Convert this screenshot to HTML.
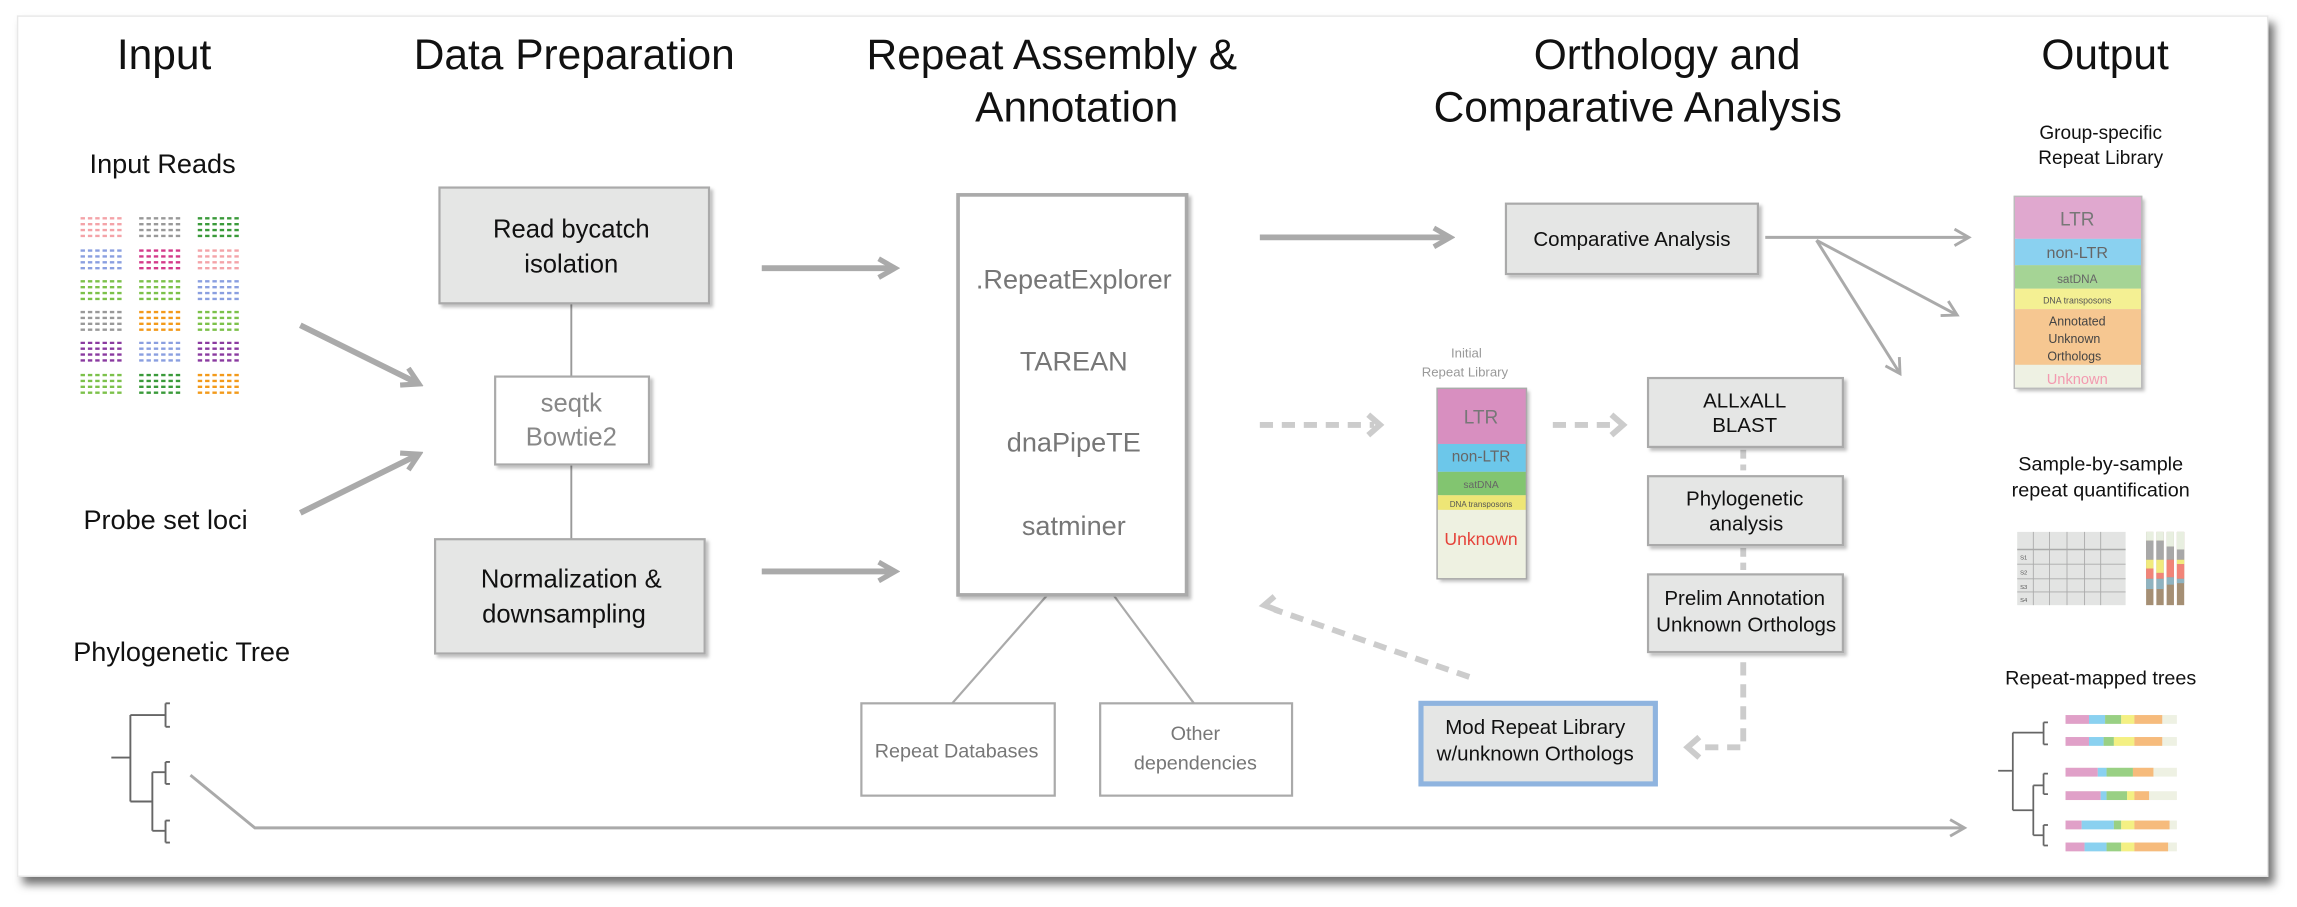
<!DOCTYPE html>
<html><head><meta charset="utf-8"><style>
html,body{margin:0;padding:0;background:#fff;}
svg{display:block;}
text{font-family:"Liberation Sans",sans-serif;}
</style></head><body>
<svg width="2297" height="907" viewBox="0 0 1568 619" preserveAspectRatio="none" xmlns="http://www.w3.org/2000/svg">
<defs>
<filter id="sh" x="-5%" y="-5%" width="112%" height="112%"><feDropShadow dx="4" dy="5" stdDeviation="3" flood-color="#000" flood-opacity="0.55"/></filter>
<filter id="bs" x="-10%" y="-10%" width="125%" height="125%"><feDropShadow dx="2" dy="2" stdDeviation="1" flood-color="#000" flood-opacity="0.25"/></filter>
<marker id="ah" viewBox="0 0 10 10" refX="8" refY="5" markerWidth="4" markerHeight="4" orient="auto"><path d="M1 1 L8 5 L1 9" fill="none" stroke="#aaa" stroke-width="2.2"/></marker>
<marker id="ah2" viewBox="0 0 10 10" refX="8" refY="5" markerWidth="7" markerHeight="7" orient="auto"><path d="M1 1 L8 5 L1 9" fill="none" stroke="#aaa" stroke-width="1.4"/></marker>
</defs>
<rect x="0" y="0" width="1568" height="619" fill="#fff"/>
<rect x="12" y="11" width="1536" height="587" fill="#fff" stroke="#e8e8e8" stroke-width="1" filter="url(#sh)"/>

<g font-size="29" fill="#111" text-anchor="middle">
<text x="112" y="47">Input</text>
<text x="392" y="47">Data Preparation</text>
<text x="718" y="47">Repeat Assembly &amp;</text>
<text x="735" y="83">Annotation</text>
<text x="1138" y="47">Orthology and</text>
<text x="1118" y="83">Comparative Analysis</text>
<text x="1437" y="47">Output</text>
</g>

<g font-size="18.5" fill="#111" text-anchor="middle">
<text x="111" y="118">Input Reads</text>
<text x="113" y="361">Probe set loci</text>
<text x="124" y="451">Phylogenetic Tree</text>
</g>

<g stroke-width="1.6" stroke-dasharray="3 2">
<g stroke="#f4a3a8"><path d="M55 149h30M55 153h30M55 157h30M55 161h30"/></g>
<g stroke="#999"><path d="M95 149h30M95 153h30M95 157h30M95 161h30"/></g>
<g stroke="#3a9a3a"><path d="M135 149h30M135 153h30M135 157h30M135 161h30"/></g>
<g stroke="#8a9fe0"><path d="M55 171h30M55 175h30M55 179h30M55 183h30"/></g>
<g stroke="#d43a8a"><path d="M95 171h30M95 175h30M95 179h30M95 183h30"/></g>
<g stroke="#f4a3a8"><path d="M135 171h30M135 175h30M135 179h30M135 183h30"/></g>
<g stroke="#7cc14a"><path d="M55 192h30M55 196h30M55 200h30M55 204h30"/></g>
<g stroke="#7cc14a"><path d="M95 192h30M95 196h30M95 200h30M95 204h30"/></g>
<g stroke="#8a9fe0"><path d="M135 192h30M135 196h30M135 200h30M135 204h30"/></g>
<g stroke="#999"><path d="M55 213h30M55 217h30M55 221h30M55 225h30"/></g>
<g stroke="#f39a1a"><path d="M95 213h30M95 217h30M95 221h30M95 225h30"/></g>
<g stroke="#7cc14a"><path d="M135 213h30M135 217h30M135 221h30M135 225h30"/></g>
<g stroke="#8a3aa0"><path d="M55 234h30M55 238h30M55 242h30M55 246h30"/></g>
<g stroke="#8a9fe0"><path d="M95 234h30M95 238h30M95 242h30M95 246h30"/></g>
<g stroke="#8a3aa0"><path d="M135 234h30M135 238h30M135 242h30M135 246h30"/></g>
<g stroke="#7cc14a"><path d="M55 256h30M55 260h30M55 264h30M55 268h30"/></g>
<g stroke="#3a9a3a"><path d="M95 256h30M95 260h30M95 264h30M95 268h30"/></g>
<g stroke="#f39a1a"><path d="M135 256h30M135 260h30M135 264h30M135 268h30"/></g>
</g>

<!-- left tree -->
<g stroke="#666" stroke-width="1.3" fill="none">
<path d="M76 517h13M89 488v59M89 488h24M89 547h15M104 527v40M104 527h9M104 567h9"/>
<path d="M113 480v16M113 480h3M113 496h3M113 520v15M113 520h3M113 535h3M113 560v15M113 560h3M113 575h3"/>
</g>

<g stroke="#aaa" stroke-width="4" fill="none" marker-end="url(#ah)">
<line x1="205" y1="222" x2="286" y2="262"/>
<line x1="205" y1="350" x2="286" y2="310"/>
<line x1="520" y1="183" x2="611" y2="183"/>
<line x1="520" y1="390" x2="611" y2="390"/>
<line x1="860" y1="162" x2="990" y2="162"/>
</g>

<g stroke="#999" stroke-width="1.3">
<line x1="390" y1="207" x2="390" y2="257"/>
<line x1="390" y1="317" x2="390" y2="368"/>
</g>
<rect x="300" y="128" width="184" height="79" fill="#e5e6e5" stroke="#aaa" stroke-width="1.5" filter="url(#bs)"/>
<rect x="338" y="257" width="105" height="60" fill="#fff" stroke="#aaa" stroke-width="1.5" filter="url(#bs)"/>
<rect x="297" y="368" width="184" height="78" fill="#e5e6e5" stroke="#aaa" stroke-width="1.5" filter="url(#bs)"/>
<g font-size="17.5" text-anchor="middle" fill="#111">
<text x="390" y="162">Read bycatch</text><text x="390" y="186">isolation</text>
<text x="390" y="401">Normalization &amp;</text><text x="385" y="425">downsampling</text>
</g>
<g font-size="17.5" text-anchor="middle" fill="#888">
<text x="390" y="281">seqtk</text><text x="390" y="304">Bowtie2</text>
</g>

<g stroke="#aaa" stroke-width="1.5"><line x1="715" y1="406" x2="650" y2="480"/><line x1="760" y1="406" x2="815" y2="480"/></g>
<rect x="654" y="133" width="156" height="273" fill="#fff" stroke="#aaa" stroke-width="2.5" filter="url(#bs)"/>
<g font-size="18.5" text-anchor="middle" fill="#777">
<text x="733" y="197">.RepeatExplorer</text>
<text x="733" y="253">TAREAN</text>
<text x="733" y="308">dnaPipeTE</text>
<text x="733" y="365">satminer</text>
</g>
<rect x="588" y="480" width="132" height="63" fill="#fff" stroke="#aaa" stroke-width="1.5"/>
<rect x="751" y="480" width="131" height="63" fill="#fff" stroke="#aaa" stroke-width="1.5"/>
<g font-size="13.5" text-anchor="middle" fill="#777">
<text x="653" y="517">Repeat Databases</text>
<text x="816" y="505">Other</text><text x="816" y="525">dependencies</text>
</g>

<g stroke="#ccc" stroke-width="4" fill="none" stroke-dasharray="9 6">
<line x1="860" y1="290" x2="938" y2="290"/>
<line x1="1060" y1="290" x2="1103" y2="290"/>
<line x1="1003" y1="462" x2="870" y2="416"/>
<path d="M1190 452V510H1160"/>
<line x1="1190" y1="307" x2="1190" y2="321" stroke-dasharray="6 4"/>
<line x1="1190" y1="374" x2="1190" y2="389" stroke-dasharray="6 4"/>
</g>
<g stroke="#ccc" stroke-width="4" fill="none">
<path d="M934 283l8 7l-8 7"/>
<path d="M1100 283l8 7l-8 7"/>
<path d="M1160 503l-8 7l8 7"/>
<path d="M870 407l-7 6l10 4"/>
</g>

<g font-size="9" fill="#999" text-anchor="middle"><text x="1001" y="244">Initial</text><text x="1000" y="257">Repeat Library</text></g>
<g filter="url(#bs)">
<rect x="981" y="265" width="61" height="38" fill="#d88fc0"/>
<rect x="981" y="303" width="61" height="19" fill="#6cc7ea"/>
<rect x="981" y="322" width="61" height="16" fill="#82c56f"/>
<rect x="981" y="338" width="61" height="10" fill="#eee676"/>
<rect x="981" y="348" width="61" height="47" fill="#eef1e1"/>
</g>
<rect x="981" y="265" width="61" height="130" fill="none" stroke="#aaa" stroke-width="1"/>
<g text-anchor="middle">
<text x="1011" y="289" font-size="13" fill="#777">LTR</text>
<text x="1011" y="315" font-size="10.5" fill="#666">non-LTR</text>
<text x="1011" y="333" font-size="7" fill="#666">satDNA</text>
<text x="1011" y="346" font-size="5.5" fill="#555">DNA transposons</text>
<text x="1011" y="372" font-size="12" fill="#e5433a">Unknown</text>
</g>

<rect x="1028" y="139" width="172" height="48" fill="#e5e6e5" stroke="#aaa" stroke-width="1.5" filter="url(#bs)"/>
<rect x="1125" y="258" width="133" height="47" fill="#e5e6e5" stroke="#aaa" stroke-width="1.5" filter="url(#bs)"/>
<rect x="1125" y="325" width="133" height="47" fill="#e5e6e5" stroke="#aaa" stroke-width="1.5" filter="url(#bs)"/>
<rect x="1125" y="392" width="133" height="53" fill="#e5e6e5" stroke="#aaa" stroke-width="1.5" filter="url(#bs)"/>
<rect x="970" y="480" width="160" height="55" fill="#e5e6e5" stroke="#8fb4df" stroke-width="3.5"/>
<g font-size="14" text-anchor="middle" fill="#111">
<text x="1114" y="168">Comparative Analysis</text>
<text x="1191" y="278">ALLxALL</text><text x="1191" y="295">BLAST</text>
<text x="1191" y="345">Phylogenetic</text><text x="1192" y="362">analysis</text>
<text x="1191" y="413">Prelim Annotation</text><text x="1192" y="431">Unknown Orthologs</text>
<text x="1048" y="501">Mod Repeat Library</text><text x="1048" y="519">w/unknown Orthologs</text>
</g>

<g stroke="#aaa" stroke-width="2" fill="none" marker-end="url(#ah2)">
<line x1="1205" y1="162" x2="1344" y2="162"/>
<line x1="1240" y1="164" x2="1336" y2="215"/>
<line x1="1240" y1="164" x2="1297" y2="255"/>
<path d="M130 529L174 565H1341"/>
</g>

<g font-size="13" fill="#111" text-anchor="middle"><text x="1434" y="95">Group-specific</text><text x="1434" y="112">Repeat Library</text></g>
<g filter="url(#bs)">
<rect x="1375" y="134" width="87" height="29" fill="#e0a8cf"/>
<rect x="1375" y="163" width="87" height="18" fill="#8ad1f0"/>
<rect x="1375" y="181" width="87" height="16" fill="#a5d495"/>
<rect x="1375" y="197" width="87" height="14" fill="#f4f093"/>
<rect x="1375" y="211" width="87" height="38" fill="#f6c791"/>
<rect x="1375" y="249" width="87" height="16" fill="#eef1e3"/>
</g>
<rect x="1375" y="134" width="87" height="131" fill="none" stroke="#bbb" stroke-width="1"/>
<g text-anchor="middle">
<text x="1418" y="154" font-size="13" fill="#777">LTR</text>
<text x="1418" y="176" font-size="11" fill="#666">non-LTR</text>
<text x="1418" y="193" font-size="8" fill="#666">satDNA</text>
<text x="1418" y="207" font-size="6" fill="#555">DNA transposons</text>
<text x="1418" y="222" font-size="8.5" fill="#444">Annotated</text>
<text x="1416" y="234" font-size="8.5" fill="#444">Unknown</text>
<text x="1416" y="246" font-size="8.5" fill="#444">Orthologs</text>
<text x="1418" y="262" font-size="10" fill="#f39ab0">Unknown</text>
</g>

<g font-size="13.5" fill="#111" text-anchor="middle"><text x="1434" y="321">Sample-by-sample</text><text x="1434" y="339">repeat quantification</text></g>
<rect x="1377" y="363" width="74" height="50" fill="#e3e4e3"/>
<g stroke="#aaa" stroke-width="0.6">
<line x1="1377" y1="375" x2="1451" y2="375" stroke-width="1"/>
<line x1="1377" y1="385" x2="1451" y2="385"/><line x1="1377" y1="395" x2="1451" y2="395"/><line x1="1377" y1="404" x2="1451" y2="404"/>
<line x1="1388" y1="363" x2="1388" y2="413"/><line x1="1399" y1="363" x2="1399" y2="413"/><line x1="1411" y1="363" x2="1411" y2="413"/><line x1="1423" y1="363" x2="1423" y2="413"/><line x1="1434" y1="363" x2="1434" y2="413"/>
</g>
<g font-size="4" fill="#555"><text x="1379" y="382">S1</text><text x="1379" y="392">S2</text><text x="1379" y="402">S3</text><text x="1379" y="411">S4</text></g>
<g>
<rect x="1465" y="363" width="5" height="50" fill="#a58f74"/><rect x="1465" y="363" width="5" height="6" fill="#e8efe0"/><rect x="1465" y="369" width="5" height="13" fill="#a8a8a8"/><rect x="1465" y="382" width="5" height="6" fill="#f1ea7d"/><rect x="1465" y="388" width="5" height="7" fill="#f18478"/><rect x="1465" y="395" width="5" height="7" fill="#8fb3c0"/>
<rect x="1472" y="363" width="5" height="50" fill="#a58f74"/><rect x="1472" y="363" width="5" height="6" fill="#e8efe0"/><rect x="1472" y="369" width="5" height="13" fill="#a8a8a8"/><rect x="1472" y="382" width="5" height="9" fill="#f1ea7d"/><rect x="1472" y="391" width="5" height="4" fill="#f18478"/><rect x="1472" y="395" width="5" height="7" fill="#8fb3c0"/>
<rect x="1479" y="363" width="5" height="50" fill="#a58f74"/><rect x="1479" y="363" width="5" height="10" fill="#e8efe0"/><rect x="1479" y="373" width="5" height="9" fill="#a8a8a8"/><rect x="1479" y="382" width="5" height="12" fill="#f18478"/><rect x="1479" y="394" width="5" height="5" fill="#8fb3c0"/>
<rect x="1486" y="363" width="5" height="50" fill="#a58f74"/><rect x="1486" y="363" width="5" height="12" fill="#e8efe0"/><rect x="1486" y="375" width="5" height="7" fill="#a8a8a8"/><rect x="1486" y="382" width="5" height="3" fill="#f1ea7d"/><rect x="1486" y="385" width="5" height="10" fill="#f18478"/><rect x="1486" y="395" width="5" height="3" fill="#8fb3c0"/>
</g>

<text x="1434" y="467" font-size="13.5" fill="#111" text-anchor="middle">Repeat-mapped trees</text>
<g stroke="#666" stroke-width="1.2" fill="none">
<path d="M1364 526h10M1374 500v53M1374 500h21M1374 553h14M1388 536v34M1388 536h7M1388 570h7"/>
<path d="M1395 493v15M1395 493h3M1395 508h3M1395 528v14M1395 528h3M1395 542h3M1395 563v14M1395 563h3M1395 577h3"/>
</g>
<g>
<rect x="1410" y="488" width="76" height="6" fill="#eef1e3"/><rect x="1410" y="488" width="16" height="6" fill="#e0a0c8"/><rect x="1426" y="488" width="11" height="6" fill="#8ad1f0"/><rect x="1437" y="488" width="11" height="6" fill="#99d084"/><rect x="1448" y="488" width="9" height="6" fill="#f4f083"/><rect x="1457" y="488" width="19" height="6" fill="#f6bb7c"/>
<rect x="1410" y="503" width="76" height="6" fill="#eef1e3"/><rect x="1410" y="503" width="16" height="6" fill="#e0a0c8"/><rect x="1426" y="503" width="10" height="6" fill="#8ad1f0"/><rect x="1436" y="503" width="7" height="6" fill="#99d084"/><rect x="1443" y="503" width="14" height="6" fill="#f4f083"/><rect x="1457" y="503" width="19" height="6" fill="#f6bb7c"/>
<rect x="1410" y="524" width="76" height="6" fill="#eef1e3"/><rect x="1410" y="524" width="22" height="6" fill="#e0a0c8"/><rect x="1432" y="524" width="6" height="6" fill="#8ad1f0"/><rect x="1438" y="524" width="18" height="6" fill="#99d084"/><rect x="1456" y="524" width="14" height="6" fill="#f6bb7c"/>
<rect x="1410" y="540" width="76" height="6" fill="#eef1e3"/><rect x="1410" y="540" width="24" height="6" fill="#e0a0c8"/><rect x="1434" y="540" width="4" height="6" fill="#8ad1f0"/><rect x="1438" y="540" width="14" height="6" fill="#99d084"/><rect x="1452" y="540" width="5" height="6" fill="#f4f083"/><rect x="1457" y="540" width="10" height="6" fill="#f6bb7c"/>
<rect x="1410" y="560" width="76" height="6" fill="#eef1e3"/><rect x="1410" y="560" width="11" height="6" fill="#e0a0c8"/><rect x="1421" y="560" width="22" height="6" fill="#8ad1f0"/><rect x="1443" y="560" width="5" height="6" fill="#99d084"/><rect x="1448" y="560" width="9" height="6" fill="#f4f083"/><rect x="1457" y="560" width="24" height="6" fill="#f6bb7c"/>
<rect x="1410" y="575" width="76" height="6" fill="#eef1e3"/><rect x="1410" y="575" width="13" height="6" fill="#e0a0c8"/><rect x="1423" y="575" width="15" height="6" fill="#8ad1f0"/><rect x="1438" y="575" width="10" height="6" fill="#99d084"/><rect x="1448" y="575" width="9" height="6" fill="#f4f083"/><rect x="1457" y="575" width="23" height="6" fill="#f6bb7c"/>
</g>
</svg>
</body></html>
